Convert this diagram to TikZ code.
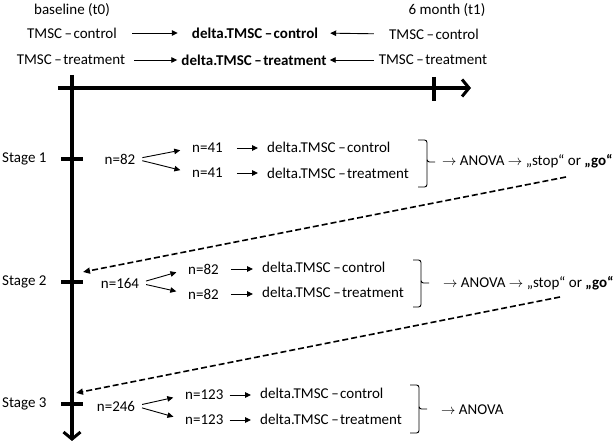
\documentclass[tikz,border=0pt]{standalone}
\usepackage{fontspec}
\setmainfont{Carlito}
\usetikzlibrary{arrows.meta}
\newcommand{\dsh}{\kern2.6pt–\kern1.4pt}
\begin{document}
\begin{tikzpicture}[x=1pt,y=-1pt,
  every node/.style={font=\fontsize{15}{17}\selectfont, inner sep=0pt},
  lbl/.style={anchor=west},
  thin arrow/.style={line width=0.9pt, -{Triangle[length=6pt,width=5.5pt]}},
  axis/.style={line width=3.5pt, -{Straight Barb[length=7pt,width=17pt,line width=3pt]}},
  tick/.style={line width=3.5pt},
  dashconn/.style={line width=1.6pt, dash pattern=on 6pt off 3pt, -{Triangle[length=7pt,width=6pt]}},
  brk/.style={line width=0.9pt, rounded corners=2.5pt}]
\useasboundingbox (0,0) rectangle (614,443);

% header
\node (t0) at (72,10) {baseline (t0)};
\node (t1) at (447,10) {6 month (t1)};
\node (lc0) at (72,33) {TMSC\dsh control};
\node (lt0) at (71,60) {TMSC\dsh treatment};
\node (dc) at (255,33) {\bfseries delta.TMSC\dsh control};
\node (dt) at (254,60) {\bfseries delta.TMSC\dsh treatment};
\node (rc) at (434,34) {TMSC\dsh control};
\node (rt) at (433,60) {TMSC\dsh treatment};
\draw[thin arrow, shorten <=15pt, shorten >=14pt] (lc0.east) -- (dc.west);
\draw[thin arrow, shorten <=9pt, shorten >=4pt] (lt0.east) -- (dt.west);
\draw[thin arrow, shorten <=15pt, shorten >=12pt] (rc.west) -- (dc.east);
\draw[thin arrow, shorten <=5pt, shorten >=3pt] (rt.west) -- (dt.east);

% axes
\coordinate (hs) at (58,88);
\coordinate (he) at (471,88);
\coordinate (vs) at (72,75);
\coordinate (ve) at (72,441);
\draw[axis] (hs) -- (he);
\draw[axis] (vs) -- (ve);
\coordinate (t1a) at (434,77);
\coordinate (t1b) at (434,101);
\draw[tick] (t1a) -- (t1b);

% stage labels and ticks
\node[lbl] (s1) at (2,159) {Stage 1};
\node[lbl] (s2) at (2,282) {Stage 2};
\node[lbl] (s3) at (2,404) {Stage 3};
\coordinate (k1a) at (61,159); \coordinate (k1b) at (83,159);
\coordinate (k2a) at (61,282); \coordinate (k2b) at (83,282);
\coordinate (k3a) at (61,404); \coordinate (k3b) at (83,404);
\draw[tick] (k1a) -- (k1b);
\draw[tick] (k2a) -- (k2b);
\draw[tick] (k3a) -- (k3b);

% stage 1
\node (n82) at (120,159) {n=82};
\node[lbl] (n41a) at (192,148) {n=41};
\node[lbl] (n41b) at (192,173) {n=41};
\node[lbl] (d1c) at (267,147) {delta.TMSC\dsh control};
\node[lbl] (d1t) at (267,173) {delta.TMSC\dsh treatment};
\draw[thin arrow, shorten <=7pt, shorten >=12pt] (n82.east) -- (n41a.west);
\draw[thin arrow, shorten <=7pt, shorten >=12pt] (n82.east) -- (n41b.west);
\draw[thin arrow, shorten <=14pt, shorten >=9pt] (n41a.east) -- (d1c.west |- n41a.east);
\draw[thin arrow, shorten <=14pt, shorten >=9pt] (n41b.east) -- (d1t.west |- n41b.east);
\draw[brk] (418,140) -| (427,162) -- (435,162);
\draw[brk] (427,160) |- (418,187);
\node[lbl] (a1) at (442,161) {$\rightarrow$ ANOVA $\rightarrow$ „stop“ or \textbf{„go“}};
\coordinate (g1) at (566,177);
\coordinate (e1) at (83,272);
\draw[dashconn] (g1) -- (e1);

% stage 2
\node (n164) at (120,283) {n=164};
\node[lbl] (n82a) at (188,269) {n=82};
\node[lbl] (n82b) at (188,294) {n=82};
\node[lbl] (d2c) at (262,267) {delta.TMSC\dsh control};
\node[lbl] (d2t) at (262,292) {delta.TMSC\dsh treatment};
\draw[thin arrow, shorten <=7pt, shorten >=12pt] (n164.east) -- (n82a.west);
\draw[thin arrow, shorten <=7pt, shorten >=12pt] (n164.east) -- (n82b.west);
\draw[thin arrow, shorten <=12pt, shorten >=9pt] (n82a.east) -- (d2c.west |- n82a.east);
\draw[thin arrow, shorten <=12pt, shorten >=9pt] (n82b.east) -- (d2t.west |- n82b.east);
\draw[brk] (413,260) -| (421,283) -- (429,283);
\draw[brk] (421,281) |- (413,307);
\node[lbl] (a2) at (443,283) {$\rightarrow$ ANOVA $\rightarrow$ „stop“ or \textbf{„go“}};
\coordinate (g2) at (560,297);
\coordinate (e2) at (76,393);
\draw[dashconn] (g2) -- (e2);

% stage 3
\node (n246) at (116,406) {n=246};
\node[lbl] (n123a) at (185,395) {n=123};
\node[lbl] (n123b) at (185,420) {n=123};
\node[lbl] (d3c) at (260,393) {delta.TMSC\dsh control};
\node[lbl] (d3t) at (260,419) {delta.TMSC\dsh treatment};
\draw[thin arrow, shorten <=7pt, shorten >=12pt] (n246.east) -- (n123a.west);
\draw[thin arrow, shorten <=7pt, shorten >=12pt] (n246.east) -- (n123b.west);
\draw[thin arrow, shorten <=6pt, shorten >=9pt] (n123a.east) -- (d3c.west |- n123a.east);
\draw[thin arrow, shorten <=6pt, shorten >=9pt] (n123b.east) -- (d3t.west |- n123b.east);
\draw[brk] (410,385) -| (419,409) -- (427,409);
\draw[brk] (419,407) |- (410,433);
\node[lbl] (a3) at (441,410) {$\rightarrow$ ANOVA};
\end{tikzpicture}
\end{document}
